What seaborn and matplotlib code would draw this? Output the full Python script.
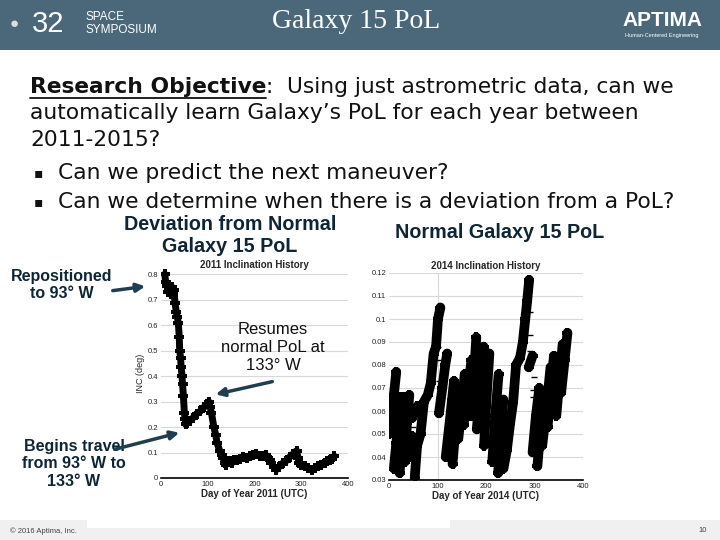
import numpy as np
import pandas as pd
import seaborn as sns
import matplotlib.pyplot as plt
from matplotlib.patches import Rectangle
from matplotlib.ticker import FuncFormatter

# 2011 inclination history (deviation from normal PoL)
days_2011 = [8, 10, 13, 16, 18, 21, 23, 26, 28, 30, 33, 35, 37, 39, 40, 42, 43, 45, 46, 48,
             50, 52, 53, 56, 62, 68, 76, 84, 92, 98, 102, 105, 108, 113, 117, 120, 126, 130,
             133, 136, 139, 143, 147, 152, 157, 162, 168, 176, 183, 190, 197, 204, 211, 218,
             224, 229, 233, 236, 241, 247, 253, 261, 268, 275, 283, 290, 293, 296, 300, 307,
             314, 322, 329, 336, 343, 350, 356, 361, 366, 371]
inc_2011 = [0.80, 0.77, 0.755, 0.73, 0.745, 0.72, 0.75, 0.72, 0.737, 0.685, 0.65, 0.63, 0.61,
            0.555, 0.50, 0.47, 0.437, 0.40, 0.37, 0.32, 0.255, 0.23, 0.21, 0.215, 0.225, 0.235,
            0.252, 0.262, 0.278, 0.29, 0.30, 0.28, 0.255, 0.20, 0.17, 0.137, 0.104, 0.09,
            0.078, 0.06, 0.052, 0.062, 0.065, 0.06, 0.07, 0.072, 0.075, 0.082, 0.078, 0.087,
            0.09, 0.095, 0.088, 0.087, 0.09, 0.078, 0.07, 0.059, 0.045, 0.033, 0.045, 0.059,
            0.068, 0.082, 0.095, 0.107, 0.08, 0.059, 0.05, 0.046, 0.04, 0.033, 0.04, 0.046,
            0.05, 0.059, 0.065, 0.072, 0.075, 0.085]

# 2014 inclination history (normal PoL): sawtooth ramps between station-keeping burns
seg_days_2014 = [
    [0, 5, 10, 15], [10, 15, 20, 25], [22, 26, 32], [33, 37, 42], [42, 48], [48, 58],
    [53, 58, 65, 72, 80, 86, 92, 97, 101, 106], [103, 110, 116, 120], [117, 125, 130, 134],
    [131, 138, 144], [143, 150, 156], [154, 160, 166, 170], [170, 175, 180], [181, 188, 195],
    [196, 201, 207], [213, 219, 226], [225, 230, 236],
    [236, 243, 250, 256, 262, 270, 276, 281, 285, 289], [288, 296], [296, 303, 310],
    [306, 312, 318], [316, 325, 333], [327, 334, 340], [345, 352, 358], [355, 362, 368]]
seg_inc_2014 = [
    [0.050, 0.060, 0.067, 0.077], [0.035, 0.046, 0.056, 0.066], [0.033, 0.048, 0.066],
    [0.038, 0.055, 0.067], [0.040, 0.049], [0.057, 0.062],
    [0.031, 0.045, 0.050, 0.064, 0.067, 0.072, 0.085, 0.088, 0.100, 0.105],
    [0.059, 0.070, 0.080, 0.085], [0.040, 0.055, 0.065, 0.073], [0.037, 0.055, 0.070],
    [0.048, 0.062, 0.076], [0.054, 0.065, 0.075, 0.082], [0.058, 0.075, 0.092],
    [0.052, 0.070, 0.088], [0.045, 0.065, 0.085], [0.038, 0.058, 0.076], [0.033, 0.050, 0.065],
    [0.035, 0.043, 0.055, 0.064, 0.080, 0.083, 0.090, 0.100, 0.108, 0.117], [0.079, 0.084],
    [0.042, 0.058, 0.070], [0.036, 0.052, 0.068], [0.045, 0.062, 0.079], [0.053, 0.070, 0.084],
    [0.058, 0.075, 0.089], [0.068, 0.082, 0.094]]
jump_days_2014 = [12, 20, 47, 50, 102, 102, 104, 104, 290, 290, 291, 298, 296, 296]
jump_inc_2014 = [0.054, 0.044, 0.047, 0.053, 0.088, 0.082, 0.073, 0.066, 0.103, 0.093,
                 0.086, 0.075, 0.069, 0.066]

df11 = pd.DataFrame({"day": days_2011, "inc": inc_2011})
rows = []
for i, (d, v) in enumerate(zip(seg_days_2014, seg_inc_2014)):
    for dd, vv in zip(d, v):
        rows.append((i, dd, vv))
df14 = pd.DataFrame(rows, columns=["seg", "day", "inc"])
dfj = pd.DataFrame({"day": jump_days_2014, "inc": jump_inc_2014})

sns.set_style("white")
plt.rcParams["font.family"] = ["Liberation Sans", "DejaVu Sans"]

fig = plt.figure(figsize=(7.2, 5.4), dpi=100)

# background / overlay in pixel coords
bg = fig.add_axes([0, 0, 1, 1], zorder=0)
bg.set_xlim(0, 720)
bg.set_ylim(540, 0)
bg.axis("off")
bg.add_patch(Rectangle((0, 0), 720, 50, color="#4a687a", lw=0))
bg.add_patch(Rectangle((0, 520), 720, 20, color="#f0f0f0", lw=0))
bg.add_patch(Rectangle((87, 520), 363, 8, color="white", lw=0))
bg.text(356, 21, "Galaxy 15 PoL", family="Liberation Serif", fontsize=20, color="white",
        ha="center", va="center")
bg.text(32, 24, "32", fontsize=21, color="white", ha="left", va="center", fontweight="light")
bg.text(10, 24, "\u25cf", fontsize=11, color="#dddddd", ha="left", va="center")
bg.text(86, 17, "SPACE", fontsize=8.5, color="white", ha="left", va="center")
bg.text(86, 30, "SYMPOSIUM", fontsize=8.5, color="white", ha="left", va="center")
bg.text(662, 20, "APTIMA", fontsize=15, fontweight="bold", color="white", ha="center", va="center")
bg.text(662, 36, "Human-Centered Engineering", fontsize=4, color="white", ha="center", va="center")
bg.text(10, 531, "\u00a9 2016 Aptima, Inc.", fontsize=5.5, color="#444444", va="center")
bg.text(703, 530, "10", fontsize=5.5, color="#444444", ha="center", va="center")

body = dict(family="DejaVu Sans", fontsize=15.7, color="#111111", va="center")
t0 = bg.text(30, 87, "Research Objective", fontweight="bold", **body)
fig.canvas.draw()
bb = t0.get_window_extent().transformed(bg.transData.inverted())
bg.plot([bb.x0, bb.x1], [98, 98], color="#111111", lw=1.3)
bg.text(bb.x1, 87, ":  Using just astrometric data, can we", **body)
bg.text(30, 113, "automatically learn Galaxy\u2019s PoL for each year between", **body)
bg.text(30, 140, "2011-2015?", **body)
bg.text(34, 173, "\u25aa", family="DejaVu Sans", fontsize=10, color="#111111", va="center")
bg.text(58, 173, "Can we predict the next maneuver?", **body)
bg.text(34, 202, "\u25aa", family="DejaVu Sans", fontsize=10, color="#111111", va="center")
bg.text(58, 202, "Can we determine when there is a deviation from a PoL?", **body)

fmt = FuncFormatter(lambda v, p: f"{v:g}")

# left chart: 2011
ax1 = fig.add_axes([161 / 720, 1 - 478 / 540, 187 / 720, 209 / 540], zorder=1)
ax1.patch.set_alpha(0)
sns.lineplot(data=df11, x="day", y="inc", ax=ax1, color="black", lw=5, marker="P",
             markersize=7, markeredgewidth=0, estimator=None, sort=False)
ax1.set_xlim(0, 400)
ax1.set_ylim(0, 0.82)
ax1.set_xticks([0, 100, 200, 300, 400])
ax1.set_yticks(np.arange(0, 0.81, 0.1))
ax1.yaxis.set_major_formatter(fmt)
ax1.set_title("2011 Inclination History", fontsize=7, fontweight="bold", pad=0.5)
ax1.set_xlabel("Day of Year 2011 (UTC)", fontsize=7, fontweight="bold", labelpad=1)
ax1.set_ylabel("INC (deg)", fontsize=6.5, labelpad=2)

# right chart: 2014
ax2 = fig.add_axes([389 / 720, 1 - 480 / 540, 194 / 720, 207 / 540], zorder=1)
ax2.patch.set_alpha(0)
ax2.axvline(100, color="#d8d8d8", lw=0.8, zorder=0)
sns.lineplot(data=df14, x="day", y="inc", units="seg", estimator=None, ax=ax2, color="black",
             lw=7, marker="P", markersize=7, markeredgewidth=0)
sns.scatterplot(data=dfj, x="day", y="inc", ax=ax2, color="black", marker="_", s=25,
                linewidth=1)
ax2.set_xlim(0, 400)
ax2.set_ylim(0.03, 0.12)
ax2.set_xticks([0, 100, 200, 300, 400])
ax2.set_yticks(np.arange(0.03, 0.1201, 0.01))
ax2.yaxis.set_major_formatter(fmt)
ax2.set_title("2014 Inclination History", fontsize=7, fontweight="bold", pad=3)
ax2.set_xlabel("Day of Year 2014 (UTC)", fontsize=7, fontweight="bold", labelpad=1)
ax2.set_ylabel("")

for ax in (ax1, ax2):
    ax.grid(axis="y", color="#d8d8d8", lw=0.8)
    ax.set_axisbelow(True)
    for s in ("top", "right", "left"):
        ax.spines[s].set_visible(False)
    ax.spines["bottom"].set_color("black")
    ax.spines["bottom"].set_linewidth(1.2)
    ax.tick_params(axis="both", labelsize=5.5, colors="#222222", length=0, pad=2)

# overlay annotations
ov = fig.add_axes([0, 0, 1, 1], zorder=5)
ov.set_xlim(0, 720)
ov.set_ylim(540, 0)
ov.axis("off")
ov.patch.set_alpha(0)
head = dict(fontsize=14.2, fontweight="bold", color="#0d2535", ha="center", va="center")
ov.text(230, 225, "Deviation from Normal", **head)
ov.text(230, 247, "Galaxy 15 PoL", **head)
ov.text(500, 232, "Normal Galaxy 15 PoL", **head)
note = dict(fontsize=11.5, fontweight="bold", color="#0d2535", ha="center", va="center",
            linespacing=1.2)
ov.text(62, 285, "Repositioned\nto 93\u00b0 W", **note)
ov.text(273, 347, "Resumes\nnormal PoL at\n133\u00b0 W", fontsize=12, color="#111111",
        ha="center", va="center", linespacing=1.25)
ov.text(74, 464, "Begins travel\nfrom 93\u00b0 W to\n133\u00b0 W", **note)
arrow = dict(arrowstyle="-|>,head_length=0.5,head_width=0.25", color="#1f3f4f", lw=2.5)
ov.annotate("", xy=(148, 286), xytext=(110, 291), arrowprops=arrow)
ov.annotate("", xy=(213, 395), xytext=(275, 381), arrowprops=arrow)
ov.annotate("", xy=(182, 432), xytext=(112, 450), arrowprops=arrow)

fig.savefig("out.png", dpi=100)
